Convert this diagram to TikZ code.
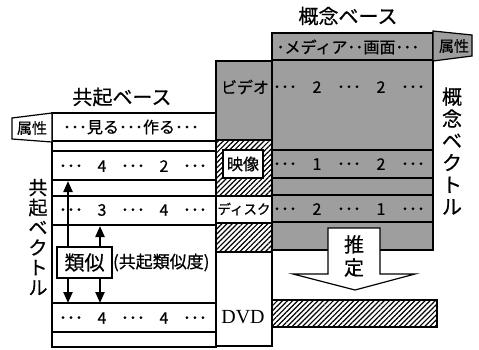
\documentclass[tikz,border=0pt]{standalone}
\usepackage{fontspec}
\setmainfont{Noto Sans CJK JP}[FakeBold=0.6]
\newfontfamily\dvdfont{Liberation Serif}
\usetikzlibrary{patterns.meta,arrows.meta}
\newcommand\dotrow[3]{\makebox[#1]{･･･}\makebox[#1]{#2}\makebox[#1]{･･･}\makebox[#1]{#3}\makebox[#1]{･･･}}
\begin{document}
\begin{tikzpicture}[x=1pt,y=-1pt,
  graycell/.style={fill=black!38},
  hatchcell/.style={pattern={Lines[angle=45,distance=3.6pt,line width=1.2pt]}},
  frame/.style={draw=black,line width=1.2pt},
  thickframe/.style={draw=black,line width=1.8pt},
  txt/.style={inner sep=0pt,font=\fontsize{16}{16}\selectfont},
  tagtxt/.style={inner sep=0pt,font=\fontsize{15}{15}\selectfont},
  titletxt/.style={inner sep=0pt,font=\fontsize{20}{22}\selectfont},
  vtxt/.style={inner sep=0pt,align=center},
  dblarrow/.style={{Triangle[length=11pt,width=9pt]}-{Triangle[length=11pt,width=9pt]},line width=2.2pt}]
\useasboundingbox (0,0) rectangle (479,349);
\fill[white] (0,0) rectangle (479,349);

% concept base
\fill[graycell] (272,33) rectangle (433,250);
\draw[frame] (272,33) rectangle (433,250);
\draw[frame] (272,60) -- (433,60);
\draw[thickframe] (272,150) rectangle (433,178);
\draw[thickframe] (272,195) rectangle (433,222);
\filldraw[graycell,frame] (433,31) -- (472,35) -- (472,56) -- (433,61) -- cycle;

% middle column
\fill[graycell] (216,61) rectangle (272,140);
\fill[white] (216,140) rectangle (272,196);
\fill[hatchcell] (216,140) rectangle (272,196);
\fill[white] (216,223) rectangle (272,252);
\fill[hatchcell] (216,223) rectangle (272,252);
\draw[frame] (216,61) rectangle (272,346);
\draw[frame] (216,140) -- (272,140) (216,196) -- (272,196) (216,223) -- (272,223) (216,252) -- (272,252);
\filldraw[fill=white,frame] (223,150) rectangle (263,178);

% co-occurrence base
\draw[frame] (52,113) rectangle (216,347);
\foreach \yy in {141,151,180,196,225,303,332} \draw[frame] (52,\yy) -- (216,\yy);
\filldraw[fill=white,frame] (12,118) -- (52,113) -- (52,142) -- (12,139) -- cycle;

% estimation arrow
\filldraw[fill=white,frame] (328,228) -- (380,228) -- (380,274) -- (415,274) -- (355,290) -- (293,274) -- (328,274) -- cycle;

% DVD bar
\fill[white] (272,300) rectangle (437,327);
\fill[hatchcell] (272,300) rectangle (437,327);
\draw[thickframe] (272,300) rectangle (437,327);

% similarity arrows
\coordinate (a1) at (68,181);
\coordinate (a2) at (68,303);
\coordinate (b1) at (100,226);
\coordinate (b2) at (100,303);
\draw[dblarrow] (a1) -- (a2);
\draw[dblarrow] (b1) -- (b2);
\node[draw,line width=1.6pt,fill=white,minimum width=55pt,minimum height=31pt,inner sep=0pt,font=\fontsize{20}{20}\selectfont] (sim) at (84.5,262.5) {類似};
\node[inner sep=0pt,font=\fontsize{17}{17}\selectfont,anchor=west] (simdeg) at (sim.east) {(共起類似度)};

% titles
\node[titletxt] (cbase) at (348,16) {概念ベース};
\node[titletxt] (kbase) at (122,97) {共起ベース};
\node[vtxt,font=\fontsize{20}{22}\selectfont] (cvec) at (452,151) {概\\念\\ベ\\ク\\ト\\ル};
\node[vtxt,font=\fontsize{19}{20}\selectfont] (kvec) at (38,237) {共\\起\\ベ\\ク\\ト\\ル};

% tags
\node[tagtxt] (ltag) at (32,128) {属性};
\node[tagtxt] (rtag) at (454,46) {属性};

% attribute rows
\node[txt] (lattr) at (131,127) {･･･見る･･･作る･･･};
\node[txt] (cattr) at (348,47) {･メディア･･画面･･･};

% left rows
\node[txt] (r1) at (133,166) {\dotrow{31pt}{4}{2}};
\node[txt] (r2) at (133,210) {\dotrow{31pt}{3}{4}};
\node[txt] (r3) at (133,318) {\dotrow{31pt}{4}{4}};

% concept rows
\node[txt] (c0) at (349,87) {\dotrow{32pt}{2}{2}};
\node[txt] (c1) at (349,164) {\dotrow{32pt}{1}{2}};
\node[txt] (c2) at (349,209) {\dotrow{32pt}{2}{1}};

% middle labels
\node[txt] (video) at (245,87) {ビデオ};
\node[txt] (eizo) at (243,164) {映像};
\node[inner sep=0pt,font=\fontsize{13.5}{14}\selectfont] (disk) at (244,209) {ディスク};
\node[inner sep=0pt,font=\dvdfont\fontsize{20}{20}\selectfont] (dvd) at (243,317) {DVD};

% estimation label
\node[vtxt,font=\fontsize{20}{23}\selectfont] (suitei) at (354,256) {推\\定};
\end{tikzpicture}
\end{document}
